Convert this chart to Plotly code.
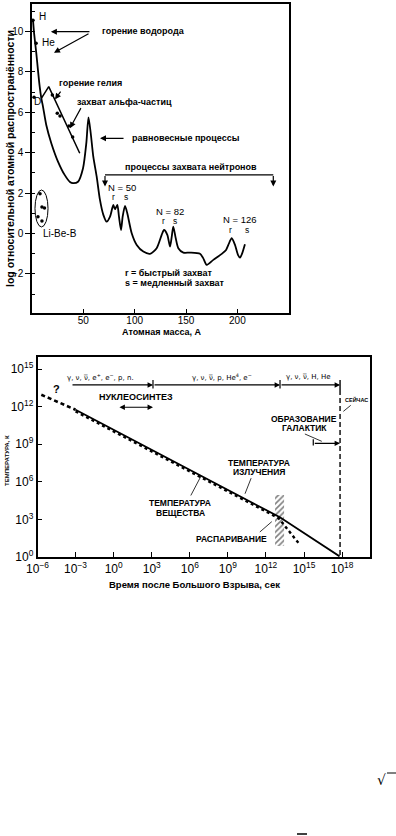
import plotly.graph_objects as go

W, H = 396, 836
FONT = "Liberation Sans, Arial, Helvetica, sans-serif"

# ---------------- top chart: abundance vs atomic mass ----------------
mass_A = [1, 2, 4.2, 5.8, 7.5, 9.1, 10.7, 13.9, 18.8, 25.3, 31.8, 37.0, 39.9, 44.8, 49.7, 52.9, 55.0,
          57.2, 59.7, 63.0, 66.2, 69.5, 72.7, 76.0, 79.2, 80.8, 83.1, 84.7, 86.7, 88.3, 90.6, 92.8, 97.1,
          102.0, 108.4, 114.9, 121.4, 126.3, 128.6, 131.8, 134.4, 136.1, 137.6, 140.0, 142.5, 147.4,
          153.9, 163.6, 166.6, 170.2, 176.6, 184.8, 189.0, 191.2, 194.5, 197.7, 200.6, 202.6, 204.5, 207.4]
log_abund = [10.55, 9.93, 8.92, 8.09, 7.27, 6.69, 6.28, 5.37, 4.47, 3.56, 2.90, 2.55, 2.49, 2.56, 3.23, 4.47, 5.75,
             4.96, 3.80, 2.81, 1.66, 0.92, 0.58, 0.83, 1.41, 1.20, 1.41, 0.83, 0.17, 0.83, 1.36, 1.0, 0.01,
             -0.57, -0.90, -1.01, -0.73, -0.07, 0.17, -0.07, -0.65, -0.16, 0.34, -0.24, -0.73, -0.95,
             -0.95, -1.01, -1.21, -1.56, -1.31, -1.01, -0.82, -0.57, -0.24, -0.57, -1.06, -1.2, -1.01, -0.53]
branch_A = [9.1, 16.3, 46.5]
branch_log = [6.69, 7.27, 3.97]
alpha_A = [19.8, 24.6, 27.3, 36.0, 39.6]
alpha_log = [6.86, 5.95, 5.82, 5.32, 4.78]
iso_A = [1, 2, 4]            # H, D, He
iso_log = [10.55, 6.74, 9.42]
libeb_A = [7.8, 9.7, 12.2, 5.8, 9.7]
libeb_log = [1.96, 1.31, 1.26, 0.82, 0.62]
top_xticks = [50, 100, 150, 200]
top_yticks = [-2, 0, 2, 4, 6, 8, 10]

# ---------------- bottom chart: temperature vs time (log10 values) ----------------
early_t = [-5.7, -3.0]
early_T = [12.95, 11.75]
rad_t = [-3.0, 13.1, 17.8]
rad_T = [11.75, 3.17, 0.05]
mat_t = [-3.0, 13.0, 14.7]
mat_T = [11.62, 3.10, 0.95]
recomb_t = [12.72, 13.43]
recomb_T = [0.88, 4.95]
now_t = 17.84
era_bounds_t = [-3.36, 3.10, 13.11, 17.84]
NUBAR = "ν\u0305"
era_labels = ["γ, ν, %s, e<sup>+</sup>, e<sup>−</sup>, p, n." % NUBAR,
              "γ, ν, %s, p, He<sup>4</sup>, e<sup>−</sup>" % NUBAR,
              "γ, ν, %s, H, He" % NUBAR]
era_label_t = [-1.07, 8.52, 15.36]
bot_xexp = [-6, -3, 0, 3, 6, 9, 12, 15, 18]
bot_yexp = [0, 3, 6, 9, 12, 15]

fig = go.Figure()

def P(x, y):
    return x / W, 1 - y / H

# top traces
fig.add_trace(go.Scatter(x=mass_A, y=log_abund, mode="lines", xaxis="x", yaxis="y",
                         line=dict(color="black", width=1.8, shape="spline", smoothing=0.7),
                         showlegend=False, hoverinfo="skip"))
fig.add_trace(go.Scatter(x=branch_A, y=branch_log, mode="lines", xaxis="x", yaxis="y",
                         line=dict(color="black", width=1.5), showlegend=False, hoverinfo="skip"))
fig.add_trace(go.Scatter(x=alpha_A, y=alpha_log, mode="markers", xaxis="x", yaxis="y",
                         marker=dict(color="black", size=3.5), showlegend=False, hoverinfo="skip"))
fig.add_trace(go.Scatter(x=iso_A, y=iso_log, mode="markers", xaxis="x", yaxis="y",
                         marker=dict(color="black", size=3.5), showlegend=False, hoverinfo="skip"))
fig.add_trace(go.Scatter(x=libeb_A, y=libeb_log, mode="markers", xaxis="x", yaxis="y",
                         marker=dict(color="black", size=3.5), showlegend=False, hoverinfo="skip"))

# bottom traces
p10 = lambda v: [10 ** a for a in v]
fig.add_trace(go.Scatter(x=p10([recomb_t[0], recomb_t[1], recomb_t[1], recomb_t[0], recomb_t[0]]),
                         y=p10([recomb_T[0], recomb_T[0], recomb_T[1], recomb_T[1], recomb_T[0]]),
                         mode="lines", fill="toself", xaxis="x2", yaxis="y2",
                         line=dict(width=0, color="rgba(0,0,0,0)"),
                         fillcolor="rgba(0,0,0,0)",
                         fillpattern=dict(shape="/", fgcolor="black", bgcolor="white", size=4, solidity=0.4),
                         showlegend=False, hoverinfo="skip"))
fig.add_trace(go.Scatter(x=p10(early_t), y=p10(early_T), mode="lines", xaxis="x2", yaxis="y2",
                         line=dict(color="black", width=2.6, dash="4px,3px"), showlegend=False, hoverinfo="skip"))
fig.add_trace(go.Scatter(x=p10(mat_t), y=p10(mat_T), mode="lines", xaxis="x2", yaxis="y2",
                         line=dict(color="black", width=2.4, dash="dot"), showlegend=False, hoverinfo="skip"))
fig.add_trace(go.Scatter(x=p10(rad_t), y=p10(rad_T), mode="lines", xaxis="x2", yaxis="y2",
                         line=dict(color="black", width=1.8), showlegend=False, hoverinfo="skip"))
# "now" line: short solid tick then dashed
fig.add_trace(go.Scatter(x=p10([now_t, now_t]), y=p10([14.13, 13.33]), mode="lines", xaxis="x2", yaxis="y2",
                         line=dict(color="black", width=1.4), showlegend=False, hoverinfo="skip"))
fig.add_trace(go.Scatter(x=p10([now_t, now_t]), y=p10([13.33, 0.0]), mode="lines", xaxis="x2", yaxis="y2",
                         line=dict(color="black", width=1.4, dash="5px,3px"), showlegend=False, hoverinfo="skip"))

axis_common = dict(showline=True, linecolor="black", linewidth=1.5, mirror=True,
                   showgrid=False, zeroline=False, tickcolor="black")

fig.update_layout(
    width=W, height=H, margin=dict(l=0, r=0, t=0, b=0, autoexpand=False),
    paper_bgcolor="white", plot_bgcolor="white",
    font=dict(family=FONT, color="black"),
    xaxis=dict(domain=[32 / W, 289 / W], range=[0, 250.3], anchor="y",
               tickmode="array", tickvals=top_xticks, ticks="inside", ticklen=4, tickwidth=1,
               ticklabelstandoff=-3,
               tickfont=dict(size=10, family=FONT), **axis_common),
    yaxis=dict(domain=[1 - 313 / H, 1 - 4 / H], range=[-3.94, 11.36], anchor="x",
               tickmode="array", tickvals=top_yticks, ticks="outside", ticklen=5, tickwidth=1,
               minor=dict(dtick=1, ticks="inside", ticklen=3, tickcolor="black", tick0=0),
               tickfont=dict(size=10, family=FONT), **axis_common),
    xaxis2=dict(type="log", domain=[37.5 / W, 370 / W], range=[-6, 20.2], anchor="y2",
                tickmode="array", tickvals=[10 ** e for e in bot_xexp],
                ticktext=["10<sup>%s</sup>" % (str(e).replace("-", "−")) for e in bot_xexp],
                ticks="inside", ticklen=5, tickwidth=1.2,
                tickfont=dict(size=12, family=FONT), **axis_common),
    yaxis2=dict(type="log", domain=[1 - 557 / H, 1 - 357 / H], range=[0, 15.96], anchor="x2",
                tickmode="array", tickvals=[10 ** e for e in bot_yexp],
                ticktext=["10<sup>%d</sup>" % e for e in bot_yexp],
                ticks="inside", ticklen=5, tickwidth=1.2,
                tickfont=dict(size=12, family=FONT), **axis_common),
)

def txt(x, y, s, ref="x", size=9, bold=True, xanchor="center", angle=0, yanchor="middle", family=FONT):
    xr, yr = ("x", "y") if ref == "x" else (("x2", "y2") if ref == "x2" else ("paper", "paper"))
    if ref == "paper":
        x, y = P(x, y)
    fig.add_annotation(x=x, y=y, xref=xr, yref=yr, text=("<b>%s</b>" % s) if bold else s,
                       showarrow=False, xanchor=xanchor, yanchor=yanchor, textangle=angle,
                       font=dict(size=size, family=family, color="black"))

def arrow(x, y, ax, ay, ref="x", head=2, width=1.2, size=1.0, side="end"):
    xr, yr = ("x", "y") if ref == "x" else ("x2", "y2")
    fig.add_annotation(x=x, y=y, ax=ax, ay=ay, xref=xr, yref=yr, axref=xr, ayref=yr, text="",
                       showarrow=True, arrowhead=head, arrowwidth=width, arrowsize=size,
                       arrowside=side, arrowcolor="black", standoff=0, startstandoff=0)

# ---- top chart annotations ----
txt(4.9, 10.75, "H", bold=False, size=10, xanchor="left")
txt(7.3, 9.45, "He", bold=False, size=10, xanchor="left")
txt(5.4, 6.52, "D", bold=False, size=10)
txt(9.0, 0.0, "Li-Be-B", bold=False, size=10, xanchor="left")
fig.add_shape(type="circle", xref="x", yref="y", x0=2.9, x1=15.6, y0=0.32, y1=2.15,
              line=dict(color="black", width=1))

txt(66.0, 10.0, "горение водорода", xanchor="left")
arrow(18.4, 9.99, 57.4, 9.99)
arrow(21.4, 8.95, 56.5, 9.93)
txt(24.3, 7.45, "горение гелия", xanchor="left")
arrow(22.4, 6.64, 28.9, 7.10)
txt(41.9, 6.52, "захват альфа-частиц", xanchor="left")
arrow(37.0, 5.21, 48.4, 6.28)
txt(95.4, 4.71, "равновесные процессы", xanchor="left")
arrow(66.2, 4.71, 90.6, 4.71)
txt(88.9, 3.31, "процессы захвата нейтронов", xanchor="left")
fig.add_shape(type="line", xref="x", yref="y", x0=71.1, x1=235.0, y0=2.90, y1=2.90,
              line=dict(color="black", width=1.2))
arrow(71.1, 2.32, 71.1, 2.92)
arrow(235.0, 2.32, 235.0, 2.92)

txt(87.4, 2.28, "N = 50", bold=False, size=9.5)
txt(79.2, 1.79, "r", bold=False, size=8.5)
txt(91.3, 1.79, "s", bold=False, size=8.5)
txt(134.4, 1.08, "N = 82", bold=False, size=9.5)
txt(127.9, 0.63, "r", bold=False, size=8.5)
txt(139.3, 0.63, "s", bold=False, size=8.5)
txt(202.6, 0.70, "N = 126", bold=False, size=9.5)
txt(193.8, 0.17, "r", bold=False, size=8.5)
txt(209.1, 0.17, "s", bold=False, size=8.5)
txt(88.9, -1.94, "r = быстрый захват", xanchor="left")
txt(88.9, -2.47, "s = медленный захват", xanchor="left")

txt(10, 159, "log относительной атомной распространённости", ref="paper", size=10.5, angle=-90)
txt(162, 332, "Атомная масса, А", ref="paper", size=9)

# ---- bottom chart annotations ----
yb = 13.73
for i in range(3):
    arrow(era_bounds_t[i + 1], yb, era_bounds_t[i], yb, ref="x2", head=2, width=1.2, size=0.9)
    txt(era_label_t[i], 14.39, era_labels[i], ref="x2", size=7, bold=False,
        family="DejaVu Sans, Liberation Sans, sans-serif")
for t in era_bounds_t[1:3]:
    arrow(t, 14.13, t, 13.33, ref="x2", head=0, width=1.2)

txt(-4.49, 13.41, "?", ref="x2", size=11)
txt(1.76, 12.75, "НУКЛЕОСИНТЕЗ", ref="x2", size=9)
arrow(3.10, 11.95, 0.34, 11.95, ref="x2", head=2, width=1.2, size=0.9, side="end+start")

txt(18.06, 12.53, "СЕЙЧАС", ref="x2", size=5.5, xanchor="left")
arrow(18.1, 11.62, 18.8, 12.2, ref="x2", head=0, width=0.8)

txt(15.0, 11.01, "ОБРАЗОВАНИЕ", ref="x2", size=8.5)
txt(15.0, 10.27, "ГАЛАКТИК", ref="x2", size=8.5)
arrow(16.40, 9.23, 14.95, 9.87, ref="x2", head=0, width=0.8)
arrow(now_t, 9.07, 15.73, 9.07, ref="x2", head=2, width=1.2, size=0.9)
arrow(15.73, 9.40, 15.73, 8.78, ref="x2", head=0, width=1.2)

txt(11.45, 7.53, "ТЕМПЕРАТУРА", ref="x2", size=8.5)
txt(11.45, 6.76, "ИЗЛУЧЕНИЯ", ref="x2", size=8.5)
arrow(10.35, 5.05, 10.88, 6.41, ref="x2", head=0, width=0.8)

txt(5.23, 4.33, "ТЕМПЕРАТУРА", ref="x2", size=8.5)
txt(5.23, 3.54, "ВЕЩЕСТВА", ref="x2", size=8.5)
arrow(6.88, 6.45, 6.02, 4.79, ref="x2", head=0, width=0.8)

txt(9.30, 1.44, "РАСПАРИВАНИЕ", ref="x2", size=8.5)
arrow(12.46, 2.82, 11.40, 1.89, ref="x2", head=0, width=0.8)

txt(7, 461, "ТЕМПЕРАТУРА, К", ref="paper", size=6, angle=-90)
txt(194, 584, "Время после Большого Взрыва, сек", ref="paper", size=9.5)

# scan artifacts at the page bottom
txt(381, 780, "√", ref="paper", size=14, bold=False, family="DejaVu Sans, sans-serif")
fig.add_shape(type="line", xref="paper", yref="paper", x0=387 / W, x1=396 / W,
              y0=1 - 773 / H, y1=1 - 773 / H, line=dict(color="black", width=1))
fig.add_shape(type="line", xref="paper", yref="paper", x0=297 / W, x1=307 / W,
              y0=1 - 834 / H, y1=1 - 834 / H, line=dict(color="black", width=1.5))

fig.write_html("out.html", config={"displayModeBar": False},
               post_script="document.body.style.margin='0px';")
